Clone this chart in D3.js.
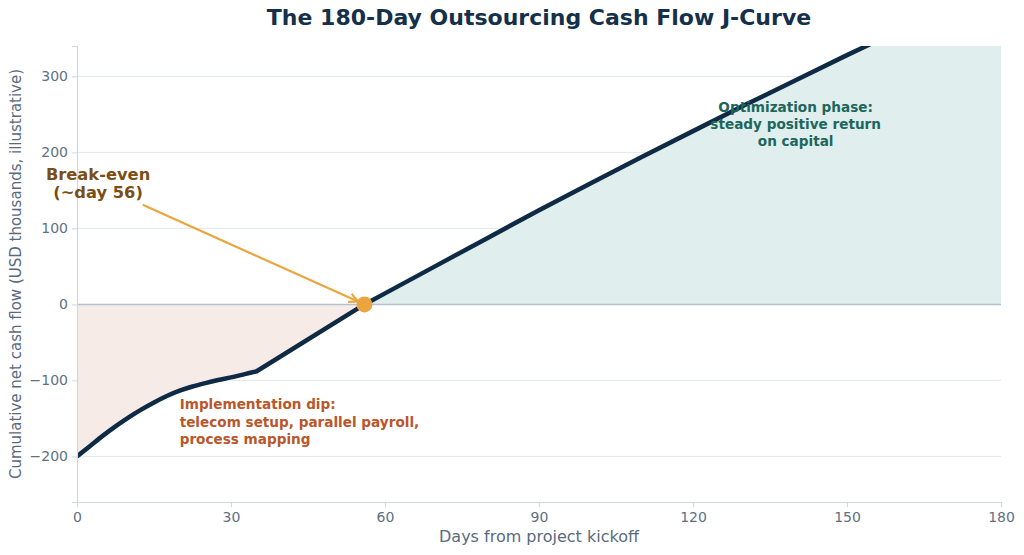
<!DOCTYPE html>
<html>
<head>
<meta charset="utf-8">
<script src="https://cdn.jsdelivr.net/npm/d3@7"></script>
<style>
  body { margin: 0; background: #fff; }
  svg { display: block; font-family: "DejaVu Sans", sans-serif; }
</style>
</head>
<body>
<script>
// Cumulative net cash flow, USD thousands (illustrative).
const days = [0, 2.5, 5, 7.5, 10, 12.5, 15, 17.5, 20, 22.5, 25, 27.5, 30, 32.5, 35,
  56, 60, 70, 80, 90, 100, 110, 120, 130, 140, 150, 160, 170, 180];
const cashFlow = [-200, -186.5, -173, -160.5, -149, -138.5, -129, -120.5, -113.5, -108, -103.5, -99.5, -96, -92, -88,
  0, 14.5, 51, 87.5, 124, 159, 194, 228, 262, 295, 328, 360, 392, 423];

const breakEvenDay = 56;
const dipEndDay = 35;
const xTicks = [0, 30, 60, 90, 120, 150, 180];
const yTicks = [-200, -100, 0, 100, 200, 300];

const title = "The 180-Day Outsourcing Cash Flow J-Curve";
const xLabel = "Days from project kickoff";
const yLabel = "Cumulative net cash flow (USD thousands, illustrative)";
const breakEvenLines = ["Break-even", "(~day 56)"];
const dipLines = ["Implementation dip:", "telecom setup, parallel payroll,", "process mapping"];
const optimLines = ["Optimization phase:", "steady positive return", "on capital"];

const width = 1024, height = 555;
const margin = { top: 46, right: 23, bottom: 53, left: 77 };
const iw = width - margin.left - margin.right;
const ih = height - margin.top - margin.bottom;

const points = days.map((d, i) => ({ day: d, value: cashFlow[i] }));

const x = d3.scaleLinear().domain([0, 180]).range([0, iw]);
const y = d3.scaleLinear().domain([-260, 340]).range([ih, 0]);

const svg = d3.select("body").append("svg")
  .attr("width", width)
  .attr("height", height);

svg.append("defs").append("clipPath")
  .attr("id", "plot-clip")
  .append("rect")
  .attr("width", iw)
  .attr("height", ih);

const g = svg.append("g")
  .attr("transform", `translate(${margin.left},${margin.top})`);

// Horizontal grid lines.
g.append("g")
  .selectAll("line")
  .data(yTicks.filter((t) => t !== 0))
  .join("line")
  .attr("x1", 0)
  .attr("x2", iw)
  .attr("y1", (d) => y(d))
  .attr("y2", (d) => y(d))
  .attr("stroke", "#e3e8ee")
  .attr("stroke-width", 1);

const plot = g.append("g").attr("clip-path", "url(#plot-clip)");

// The dip is smooth, the ramp after it is straight with a sharp corner at day 35.
const dip = points.filter((d) => d.day <= dipEndDay);
const ramp = points.filter((d) => d.day >= dipEndDay);
const smoothLine = d3.line().curve(d3.curveMonotoneX).x((d) => x(d.day)).y((d) => y(d.value));
const straightLine = d3.line().x((d) => x(d.day)).y((d) => y(d.value));
const jCurve = (dipPart, rampPart) =>
  smoothLine(dipPart) + straightLine(rampPart).replace(/^M/, "L");

// Shade the negative (dip) phase ...
const negRamp = ramp.filter((d) => d.day <= breakEvenDay);
plot.append("path")
  .attr("d", jCurve(dip, negRamp) + `L${x(breakEvenDay)},${y(0)}L${x(0)},${y(0)}Z`)
  .attr("fill", "#f6ebe6");

// ... and the positive (return) phase.
plot.append("path")
  .datum(ramp.filter((d) => d.day >= breakEvenDay))
  .attr("d", d3.area().x((d) => x(d.day)).y0(y(0)).y1((d) => y(d.value)))
  .attr("fill", "#e0eeed");

// Zero line.
g.append("line")
  .attr("x1", 0)
  .attr("x2", iw)
  .attr("y1", y(0))
  .attr("y2", y(0))
  .attr("stroke", "#b4c2d0")
  .attr("stroke-width", 1.5);

// The J-curve itself.
plot.append("path")
  .attr("d", jCurve(dip, ramp))
  .attr("fill", "none")
  .attr("stroke", "#0f2a44")
  .attr("stroke-width", 4.5)
  .attr("stroke-linejoin", "round");

// Axes.
const xAxis = g.append("g")
  .attr("transform", `translate(0,${ih})`)
  .call(d3.axisBottom(x).tickValues(xTicks).tickSize(5).tickPadding(5));

const yAxis = g.append("g")
  .call(d3.axisLeft(y).tickValues(yTicks).tickSize(5).tickPadding(4)
    .tickFormat((d) => d < 0 ? "\u2212" + Math.abs(d) : d));

for (const axis of [xAxis, yAxis]) {
  axis.select(".domain").attr("stroke", "#cfd8e1").attr("stroke-width", 1.2);
  axis.selectAll(".tick line").attr("stroke", "#cfd8e1");
  axis.selectAll(".tick text")
    .attr("fill", "#5f7083")
    .style("font-size", "14px")
    .style("font-family", "DejaVu Sans");
}

svg.append("text")
  .attr("x", margin.left + iw / 2)
  .attr("y", 537)
  .attr("text-anchor", "middle")
  .attr("dominant-baseline", "middle")
  .attr("fill", "#5a6a7e")
  .style("font-size", "16px")
  .text(xLabel);

svg.append("text")
  .attr("transform", `translate(16,${margin.top + ih / 2}) rotate(-90)`)
  .attr("text-anchor", "middle")
  .attr("dominant-baseline", "middle")
  .attr("fill", "#5a6a7e")
  .style("font-size", "15px")
  .text(yLabel);

svg.append("text")
  .attr("x", margin.left + iw / 2)
  .attr("y", 19)
  .attr("text-anchor", "middle")
  .attr("dominant-baseline", "middle")
  .attr("fill", "#14304a")
  .style("font-size", "22px")
  .style("font-weight", "bold")
  .text(title);

// Break-even marker and annotation.
const bx = x(breakEvenDay), by = y(0);
const start = [x(12.8), y(131)];
const ang = Math.atan2(by - start[1], bx - start[0]);
const tip = [bx - 7 * Math.cos(ang), by - 7 * Math.sin(ang)];
const head = 10, spread = 0.45;

g.append("line")
  .attr("x1", start[0]).attr("y1", start[1])
  .attr("x2", tip[0]).attr("y2", tip[1])
  .attr("stroke", "#eaa53e")
  .attr("stroke-width", 2.2);

g.append("path")
  .attr("d", d3.line()([
    [tip[0] - head * Math.cos(ang - spread), tip[1] - head * Math.sin(ang - spread)],
    tip,
    [tip[0] - head * Math.cos(ang + spread), tip[1] - head * Math.sin(ang + spread)]
  ]))
  .attr("fill", "none")
  .attr("stroke", "#eaa53e")
  .attr("stroke-width", 2.2);

g.append("circle")
  .attr("cx", bx)
  .attr("cy", by)
  .attr("r", 8)
  .attr("fill", "#eaa53e");

function block(lines, px, py, opts) {
  const t = g.append("text")
    .attr("text-anchor", opts.anchor)
    .attr("fill", opts.color)
    .style("font-size", opts.size + "px")
    .style("font-weight", "bold");
  lines.forEach((s, i) => {
    t.append("tspan")
      .attr("x", px)
      .attr("y", py + i * opts.lh)
      .attr("dominant-baseline", "middle")
      .text(s);
  });
}

block(breakEvenLines, x(4.1), y(169), { anchor: "middle", color: "#7a4e14", size: 16.3, lh: 18 });
block(dipLines, x(20), y(-133), { anchor: "start", color: "#b9572a", size: 13.6, lh: 17.3 });
block(optimLines, x(140), y(259), { anchor: "middle", color: "#1d665c", size: 13.6, lh: 17 });
</script>
</body>
</html>
